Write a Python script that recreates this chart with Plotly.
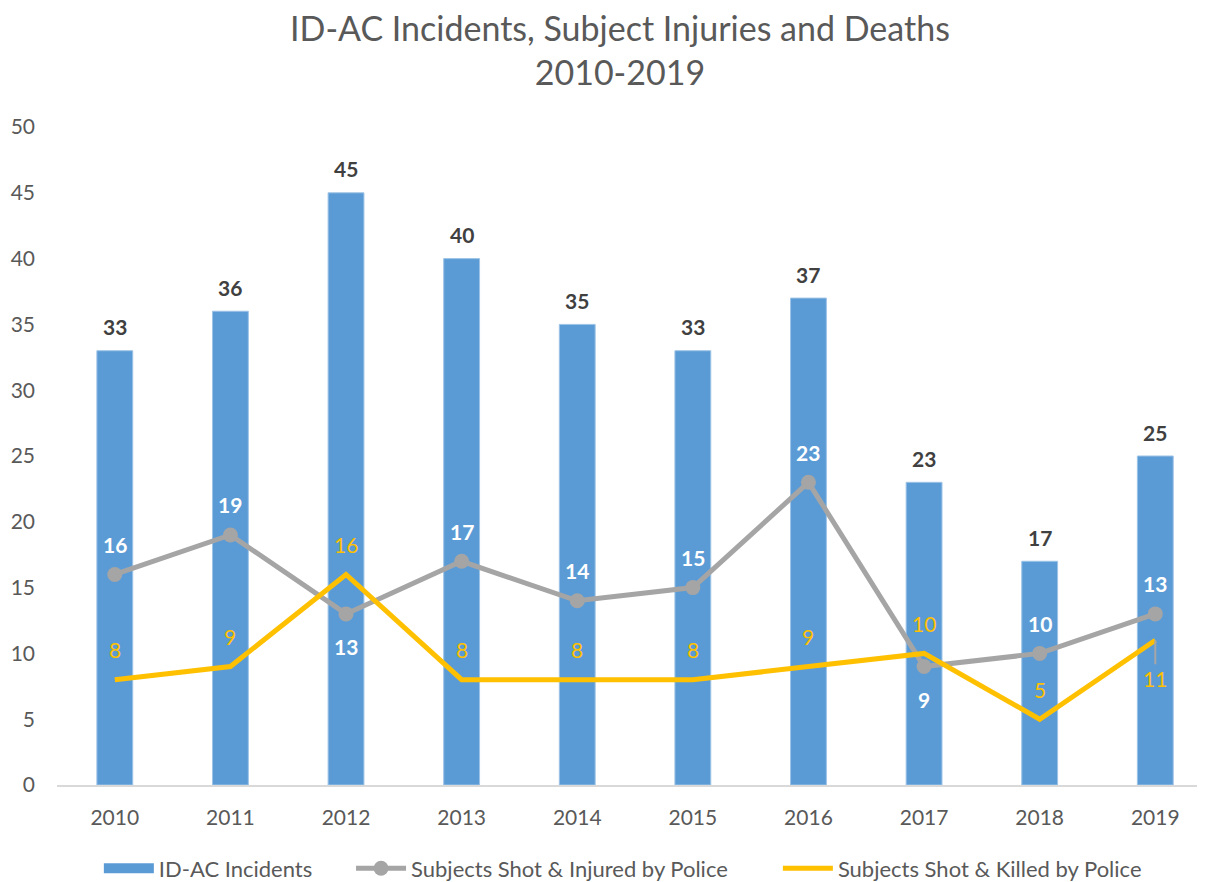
import plotly.graph_objects as go

years = ["2010", "2011", "2012", "2013", "2014", "2015", "2016", "2017", "2018", "2019"]
incidents = [33, 36, 45, 40, 35, 33, 37, 23, 17, 25]
injured = [16, 19, 13, 17, 14, 15, 23, 9, 10, 13]
killed = [8, 9, 16, 8, 8, 8, 9, 10, 5, 11]
injured_label_pos = ["above", "above", "below", "above", "above", "above", "above", "below", "above", "above"]
killed_label_pos = ["above", "above", "above", "above", "above", "above", "above", "above", "above", "below"]
title_text = "ID-AC Incidents, Subject Injuries and Deaths<br>2010-2019"

FONT = "Lato, Open Sans, sans-serif"
GREY_TXT = "#595959"
BLUE = "#5B9BD5"
GREY = "#A5A5A5"
YELLOW = "#FFC000"
GAP1 = "\u00a0" * 6
GAP2 = "\u00a0" * 8

x = list(range(len(years)))

# page body has an 8px margin, so the figure is sized/offset to compensate
W, H = 1197, 874
L, T, B = 49, 119, 97
PLOT_W = W - L
PLOT_H = H - T - B

fig = go.Figure()
fig.add_trace(go.Bar(
    x=x, y=incidents, name="ID-AC Incidents",
    marker=dict(color=BLUE, line=dict(color="#9DC3E6", width=1)),
    width=0.31, showlegend=False,
))
fig.add_trace(go.Scatter(
    x=[None], y=[None], name="ID-AC Incidents" + GAP1, mode="lines",
    line=dict(color=BLUE, width=16),
))
fig.add_trace(go.Scatter(
    x=x, y=injured, name="Subjects Shot & Injured by Police" + GAP2,
    mode="lines+markers",
    line=dict(color=GREY, width=5),
    marker=dict(color=GREY, size=15),
))
fig.add_trace(go.Scatter(
    x=x, y=killed, name="Subjects Shot & Killed by Police",
    mode="lines",
    line=dict(color=YELLOW, width=5),
))

for i, v in enumerate(incidents):
    fig.add_annotation(x=x[i], y=v, text=str(v), showarrow=False, yshift=24,
                       font=dict(family=FONT, size=21, color="#404040", weight="bold"))
for i, (v, p) in enumerate(zip(injured, injured_label_pos)):
    fig.add_annotation(x=x[i], y=v, text=str(v), showarrow=False,
                       yshift=30 if p == "above" else -33,
                       font=dict(family=FONT, size=21, color="white", weight="bold"))
for i, (v, p) in enumerate(zip(killed, killed_label_pos)):
    if p == "above":
        fig.add_annotation(x=x[i], y=v, text=str(v), showarrow=False, yshift=30,
                           font=dict(family=FONT, size=21, color=YELLOW))
    else:
        # label pulled below the point with a thin leader line
        fig.add_annotation(x=x[i], y=v, text=str(v), showarrow=True,
                           ax=0, ay=38, arrowhead=0, arrowwidth=2,
                           arrowcolor=GREY, standoff=0, startstandoff=0,
                           font=dict(family=FONT, size=21, color=YELLOW))

# chart title (two lines) as a paper-anchored annotation
fig.add_annotation(
    xref="paper", yref="paper",
    x=(612 - L) / PLOT_W, y=1 + (T - 41) / PLOT_H,
    xanchor="center", yanchor="middle", showarrow=False,
    text=title_text, align="center",
    font=dict(family=FONT, size=34, color=GREY_TXT),
)

fig.update_layout(
    width=W, height=H,
    margin=dict(l=L, r=0, t=T, b=B, autoexpand=False),
    plot_bgcolor="white", paper_bgcolor="white",
    font=dict(family=FONT, color=GREY_TXT),
    xaxis=dict(tickmode="array", tickvals=x, ticktext=years,
               range=[-0.5, 9.43], showgrid=False, showline=True,
               linecolor="#D9D9D9", linewidth=1.5, ticks="",
               automargin=False, ticklabelstandoff=13,
               tickfont=dict(family=FONT, size=21, color=GREY_TXT)),
    yaxis=dict(range=[0, 50], dtick=5, showgrid=False, zeroline=False,
               showline=False, ticks="", ticklabelstandoff=21, automargin=False,
               tickfont=dict(family=FONT, size=21, color=GREY_TXT)),
    showlegend=True,
    legend=dict(orientation="h", x=(598 - 8) / W, xanchor="center", y=-0.095, yanchor="top",
                font=dict(family=FONT, size=22, color=GREY_TXT),
                itemwidth=50, traceorder="normal"),
)

fig.write_html("out.html")
